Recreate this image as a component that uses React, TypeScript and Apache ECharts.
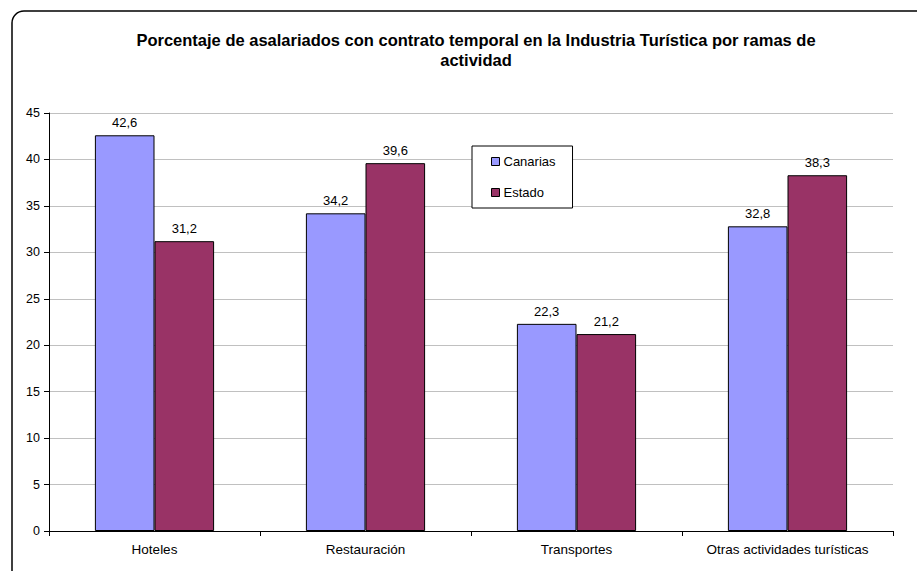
import React, { useEffect, useRef } from "react";
import * as echarts from "echarts";

const categories = ["Hoteles", "Restauración", "Transportes", "Otras actividades turísticas"];
const canarias = [42.6, 34.2, 22.3, 32.8];
const estado = [31.2, 39.6, 21.2, 38.3];
const seriesNames = ["Canarias", "Estado"];
const titleText =
  "Porcentaje de asalariados con contrato temporal en la Industria Turística por ramas de\nactividad";

const fmt = (p: any) => String(p.value).replace(".", ",");

export default function App() {
  const ref = useRef<HTMLDivElement>(null);
  useEffect(() => {
    if (!ref.current) return;
    const chart = echarts.init(ref.current, null, { renderer: "svg" });
    const font = "Arial, 'Liberation Sans', sans-serif";
    const labelCfg = {
      show: true,
      position: "top",
      distance: 6,
      color: "#000",
      fontSize: 13,
      fontFamily: font,
      formatter: fmt,
    };
    chart.setOption({
      animation: false,
      backgroundColor: "#ffffff",
      textStyle: { fontFamily: font },
      graphic: [
        {
          type: "rect",
          shape: { x: 12, y: 11, width: 930, height: 580, r: 12 },
          style: { fill: "none", stroke: "#000", lineWidth: 1.5 },
          silent: true,
          z: -1,
        },
      ],
      title: {
        text: titleText,
        left: 471,
        top: 25,
        textAlign: "center",
        textStyle: {
          fontFamily: font,
          fontSize: 16.5,
          fontWeight: "bold",
          color: "#000",
          lineHeight: 20,
        },
      },
      legend: {
        data: seriesNames,
        orient: "vertical",
        left: 472,
        top: 146,
        padding: [9, 17, 9, 19],
        itemGap: 18,
        itemWidth: 8,
        itemHeight: 8,
        itemStyle: { borderColor: "#000", borderWidth: 1 },
        borderColor: "#000",
        borderWidth: 1,
        backgroundColor: "#fff",
        icon: "rect",
        textStyle: { fontFamily: font, fontSize: 13, color: "#000", padding: [0, 0, 0, -1] },
      },
      grid: { left: 49, right: 24, top: 113, bottom: 40, containLabel: false },
      xAxis: {
        type: "category",
        data: categories,
        axisLine: { lineStyle: { color: "#000", width: 1 } },
        axisTick: { show: true, length: 5, lineStyle: { color: "#000" } },
        axisLabel: { color: "#000", fontSize: 13.5, margin: 11, fontFamily: font },
      },
      yAxis: {
        type: "value",
        min: 0,
        max: 45,
        interval: 5,
        axisLine: { show: true, lineStyle: { color: "#000", width: 1 } },
        axisTick: { show: true, length: 5, lineStyle: { color: "#000" } },
        axisLabel: { color: "#000", fontSize: 12.5, margin: 9, fontFamily: font },
        splitLine: { show: true, lineStyle: { color: "#c0c0c0", width: 1 } },
      },
      series: [
        {
          name: seriesNames[0],
          type: "bar",
          data: canarias,
          barGap: "0%",
          barCategoryGap: "43.5%",
          itemStyle: { color: "#9999ff", borderColor: "#000", borderWidth: 1 },
          label: labelCfg,
        },
        {
          name: seriesNames[1],
          type: "bar",
          data: estado,
          barGap: "0%",
          barCategoryGap: "43.5%",
          itemStyle: { color: "#993366", borderColor: "#000", borderWidth: 1 },
          label: labelCfg,
        },
      ],
    });
    return () => chart.dispose();
  }, []);
  return (
    <div
      ref={ref}
      style={{ position: "absolute", left: 0, top: 0, width: 917, height: 571 }}
    />
  );
}
